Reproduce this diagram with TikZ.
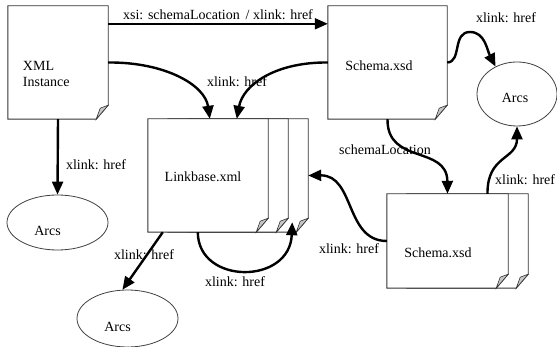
\documentclass[tikz,border=0pt]{standalone}
\usepackage{fontspec}
\setmainfont{Liberation Serif}
\usetikzlibrary{arrows.meta,shapes.geometric,backgrounds}

% outline of one sheet with a curled lower-right corner;
% #1 = node that gives the sheet's size, #2 = horizontal offset of the sheet
\newcommand\docsheet[2]{%
  \filldraw[sheetline]
    ([xshift=#2]#1.north west) -- ([xshift=#2]#1.north east)
    -- ([xshift=#2,yshift=14pt]#1.south east)
    -- ([xshift=#2-12pt]#1.south east)
    -- ([xshift=#2]#1.south west) -- cycle;
  \filldraw[curl]
    ([xshift=#2,yshift=14pt]#1.south east)
    -- ([xshift=#2-12pt]#1.south east)
    -- ([xshift=#2-8pt,yshift=11pt]#1.south east) -- cycle;
}

\begin{document}
\begin{tikzpicture}[x=1pt,y=-1pt,
  txt/.style={font=\fontsize{14}{16}\selectfont, inner sep=0pt},
  doc/.style={rectangle, inner sep=0pt, draw=none},
  arcs/.style={ellipse, draw=black!75, line width=0.8pt, inner sep=0pt, fill=white},
  sheetline/.style={draw=black!80, fill=white, line width=0.9pt, line join=miter},
  curl/.style={draw=black!80, fill=black!22, line width=0.6pt},
  link/.style={line width=2.4pt, -{Triangle[length=13pt,width=11pt]}},
  every label/.style={txt}
]
\useasboundingbox (0,0) rectangle (557,347);

% documents
\node[doc, minimum width=100pt, minimum height=113pt,
  label={[align=left, anchor=west, xshift=15pt, yshift=-11pt]west:{XML\\Instance}}]
  (xml) at (58,62.5) {};
\node[doc, minimum width=119pt, minimum height=113pt,
  label={[xshift=-8.5pt, yshift=-3.5pt]center:Schema.xsd}]
  (schema) at (387.5,62.5) {};
\node[doc, minimum width=120pt, minimum height=113pt,
  label={[xshift=-5pt, yshift=-1.5pt]center:Linkbase.xml}]
  (linkbase) at (208,175.5) {};
\node[doc, minimum width=121pt, minimum height=94pt,
  label={[xshift=-9.5pt, yshift=-12pt]center:Schema.xsd}]
  (botschema) at (447.5,241) {};

% arcs
\node[arcs, minimum width=101pt, minimum height=55pt,
  label={[xshift=-10pt, yshift=-8pt]center:Arcs}] (arcsL) at (57.5,222.5) {};
\node[arcs, minimum width=101pt, minimum height=57pt,
  label={[xshift=-10pt, yshift=-8pt]center:Arcs}] (arcsB) at (127.5,318.5) {};
\node[arcs, minimum width=80pt, minimum height=64pt,
  label={[xshift=-2pt, yshift=-4pt]center:Arcs}] (arcsR) at (517,94) {};

% sheets, back to front, under a white ground
\begin{pgfonlayer}{background}
  \fill[white] (0,0) rectangle (557,347);
  \docsheet{xml}{0pt}
  \docsheet{schema}{0pt}
  \docsheet{linkbase}{40pt}
  \docsheet{linkbase}{20pt}
  \docsheet{linkbase}{0pt}
  \docsheet{botschema}{20pt}
  \docsheet{botschema}{0pt}
\end{pgfonlayer}

% links
\draw[link, line width=2pt] ([yshift=-18pt]xml.north east)
  -- node[txt, above=3pt] {xsi: schemaLocation \,/ xlink: href}
  ([yshift=-18pt]schema.north west);

\draw[link] (xml.east) .. controls (165,62) and (205,85) .. ([xshift=62pt]linkbase.north west);

\draw[link] (schema.west) .. controls (275,62) and (243,85) .. ([xshift=89pt]linkbase.north west);
\node[txt] (l3) at (237,82) {xlink: href};

\draw[link] (schema.east) .. controls (462,62) and (452,32) .. (470,32)
  .. controls (485,32) and (487,50) .. (arcsR.128);
\node[txt] (l4) at (506,18) {xlink: href};

\draw[link] (schema.south) .. controls (387,165) and (447,145) .. (botschema.north);
\node[txt] (l5) at (385,150) {schemaLocation};

\draw[link] ([xshift=40pt]botschema.north) .. controls (487,155) and (517,160) .. (arcsR.south);
\node[txt, anchor=west] (l6) at (495,180) {xlink: href};

\draw[link] (botschema.west) .. controls (345,241) and (355,175) .. ([xshift=40pt]linkbase.east);
\node[txt] (l7) at (349,249) {xlink: href};

\draw[link] (xml.south) -- (arcsL.north);
\node[txt] (l8) at (96,165) {xlink: href};

\draw[link] ([xshift=15pt]linkbase.south west) -- (arcsB.100);
\node[txt] (l9) at (144,255) {xlink: href};

\draw[link] ([xshift=50pt]linkbase.south west) .. controls (198,285) and (290,285)
  .. ([xshift=24pt,yshift=10pt]linkbase.south east);
\node[txt] (l10) at (235,282) {xlink: href};
\end{tikzpicture}
\end{document}
